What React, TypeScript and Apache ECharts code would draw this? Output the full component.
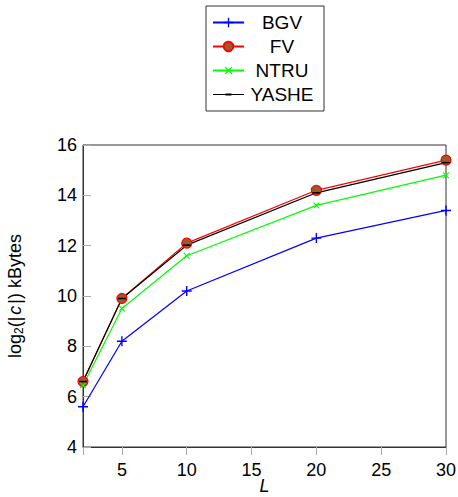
import React, { useEffect, useRef } from "react";
import * as echarts from "echarts";

const L = [2, 5, 10, 20, 30];
const xTickLabels = [5, 10, 15, 20, 25, 30];
const bgv = [5.6, 8.2, 10.2, 12.3, 13.4];
const fv = [6.6, 9.9, 12.1, 14.2, 15.4];
const ntru = [6.45, 9.5, 11.6, 13.6, 14.8];
const yashe = [6.6, 9.9, 12.02, 14.1, 15.3];

const FONT = "Liberation Sans";
const PLUS = "path://M4.3,0H5.7V4.3H10V5.7H5.7V10H4.3V5.7H0V4.3H4.3Z";
const DASH_ICON = "path://M0,5.5H31V6.5H0ZM12.5,5H18.5V7H12.5Z";

const pairs = (ys: number[]) => L.map((x, i) => [x, ys[i]]);

export default function App() {
  const ref = useRef<HTMLDivElement>(null);
  useEffect(() => {
    if (!ref.current) return;
    const chart = echarts.init(ref.current, undefined, { renderer: "svg" });
    chart.setOption({
      animation: false,
      backgroundColor: "#ffffff",
      textStyle: { fontFamily: FONT },
      legend: {
        orient: "vertical",
        left: 206,
        top: 6,
        padding: [7, 9, 7, 6],
        itemWidth: 31,
        itemHeight: 12,
        itemGap: 5,
        borderColor: "#333",
        borderWidth: 1,
        backgroundColor: "#fff",
        formatter: "{c|{name}}",
        textStyle: {
          fontFamily: FONT,
          fontSize: 19,
          color: "#000",
          rich: {
            c: { width: 66, align: "center", lineHeight: 20, fontSize: 19, fontFamily: FONT, color: "#000" },
          },
        },
        data: ["BGV", "FV", "NTRU", { name: "YASHE", icon: DASH_ICON }],
      },
      grid: {
        left: 83,
        top: 145,
        right: 12,
        bottom: 50,
        show: true,
        borderColor: "#333",
        borderWidth: 1,
        containLabel: false,
        outerBoundsMode: "none",
      },
      xAxis: {
        type: "value",
        min: 2,
        max: 30,
        splitNumber: 5,
        name: "L",
        nameLocation: "middle",
        nameGap: 30,
        nameMoveOverlap: false,
        nameTextStyle: { fontFamily: FONT, fontSize: 18, fontStyle: "italic", color: "#000" },
        axisLine: { show: true, lineStyle: { color: "#333", width: 1 } },
        axisTick: { show: true, inside: false, length: 8, lineStyle: { color: "#aaa" } },
        axisLabel: { show: false },
        splitLine: { show: false },
      },
      yAxis: {
        type: "value",
        min: 4,
        max: 16,
        interval: 2,
        name: "{a|log}{s|2}{a|(|}{i|c}{a||) kBytes}",
        nameLocation: "middle",
        nameGap: 58,
        nameRotate: 90,
        nameTextStyle: {
          fontFamily: FONT,
          fontSize: 18,
          color: "#000",
          rich: {
            a: { fontFamily: FONT, fontSize: 18, color: "#000" },
            s: { fontFamily: FONT, fontSize: 12, color: "#000", verticalAlign: "bottom", padding: [8, 0, 0, 0] },
            i: { fontFamily: FONT, fontSize: 18, fontStyle: "italic", color: "#000", padding: [0, 2, 0, 2] },
          },
        },
        axisLine: { show: true, lineStyle: { color: "#333", width: 1 } },
        axisTick: { show: true, inside: true, length: 8, lineStyle: { color: "#aaa" } },
        axisLabel: { fontFamily: FONT, fontSize: 18, color: "#000", margin: 6 },
        splitLine: { show: false },
      },
      series: [
        {
          name: "BGV",
          type: "line",
          data: pairs(bgv),
          color: "#0000ff",
          lineStyle: { color: "#0000ff", width: 1.2 },
          symbol: PLUS,
          symbolSize: 10,
          itemStyle: { color: "#0000ff" },
        },
        {
          name: "FV",
          type: "line",
          data: pairs(fv),
          color: "#ff0000",
          lineStyle: { color: "#ff0000", width: 1.2 },
          symbol: "circle",
          symbolSize: 10,
          itemStyle: { color: "#9a5a2c", borderColor: "#ff0000", borderWidth: 1.2 },
        },
        {
          name: "NTRU",
          type: "line",
          data: pairs(ntru),
          color: "#00ff00",
          lineStyle: { color: "#00ff00", width: 1.2 },
          symbol: PLUS,
          symbolRotate: 45,
          symbolSize: 8,
          itemStyle: { color: "#00ff00" },
        },
        {
          name: "YASHE",
          type: "line",
          data: pairs(yashe),
          color: "#000000",
          lineStyle: { color: "#000000", width: 1.2 },
          symbol: "rect",
          symbolSize: [8, 1.5],
          itemStyle: { color: "#000000" },
        },
      ],
    });
    const labels = xTickLabels.map((v) => {
      const p = chart.convertToPixel({ xAxisIndex: 0, yAxisIndex: 0 }, [v, 4]) as number[];
      return {
        type: "text",
        x: p[0],
        y: p[1] + 14,
        style: {
          text: String(v),
          fontFamily: FONT,
          fontSize: 18,
          fill: "#000",
          align: "center",
          verticalAlign: "top",
        },
      };
    });
    chart.setOption({ graphic: labels });
    return () => chart.dispose();
  }, []);
  return <div ref={ref} style={{ width: 458, height: 497, position: "absolute", left: 0, top: 0 }} />;
}
